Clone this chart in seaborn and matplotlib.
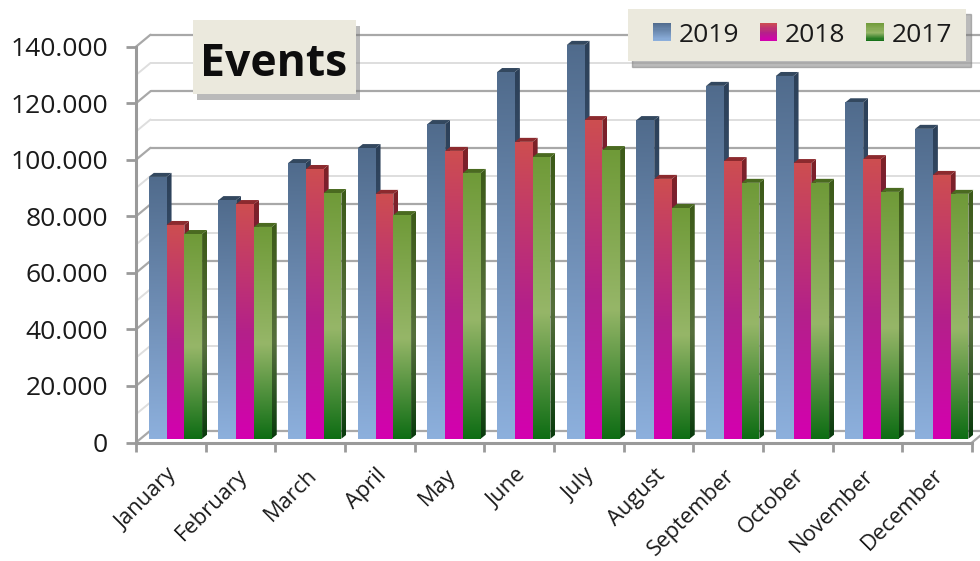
import numpy as np
import pandas as pd
import matplotlib
matplotlib.use("Agg")
import matplotlib.pyplot as plt
import seaborn as sns
from matplotlib.colors import LinearSegmentedColormap, to_rgb
from matplotlib.legend_handler import HandlerBase
from matplotlib.patches import Patch, Polygon, Rectangle
from matplotlib.transforms import ScaledTranslation
import matplotlib.patheffects as pe

months = ["January", "February", "March", "April", "May", "June", "July",
          "August", "September", "October", "November", "December"]
v2019 = [92600, 84400, 97500, 102800, 111300, 129700, 139300, 112700, 124800, 128300, 119000, 109600]
v2018 = [75600, 83000, 95400, 86600, 101800, 105000, 112700, 91900, 98200, 97500, 98900, 93300]
v2017 = [72400, 74900, 86900, 79100, 94000, 99600, 102100, 81600, 90500, 90500, 87300, 86600]
years = ["2019", "2018", "2017"]
y_ticks = [0, 20000, 40000, 60000, 80000, 100000, 120000, 140000]
y_labels = ["0", "20.000", "40.000", "60.000", "80.000", "100.000", "120.000", "140.000"]
minor_grid = [10000, 30000, 50000, 70000, 90000, 110000, 130000]

W, H = 980, 561
sns.set_theme(style="white")
plt.rcParams["font.family"] = ["Open Sans", "DejaVu Sans"]

fig = plt.figure(figsize=(W / 100, H / 100), dpi=100, facecolor="white")
L, R, B, T = 136.0, 972.0, 442.5, 46.7
ax = fig.add_axes([L / W, 1 - B / H, (R - L) / W, (B - T) / H])
ax.patch.set_alpha(0)

df = pd.DataFrame({"month": months * 3,
                   "year": sum([[y] * 12 for y in years], []),
                   "value": v2019 + v2018 + v2017})
sns.barplot(data=df, x="month", y="value", hue="year", hue_order=years, order=months,
            width=0.765, gap=0, dodge=True, legend=False, ax=ax, saturation=1,
            palette=["#6d8db5", "#b8208c", "#7fa04a"], linewidth=0)

ax.set_xlim(-0.5, 11.5)
ax.set_ylim(0, 140000)
px_x = 12 / (R - L)
px_y = 140000 / (B - T)

# 3D depth
wall_dx, wall_dy = 14.5 * px_x, 12 * px_y
bar_dx, bar_dy = 4.6 * px_x, 3.8 * px_y
side_dx, side_dy = 5.0 * px_x, 4.0 * px_y

front = {"2019": ["#506b8c", "#8db0dd"],
         "2018": ["#cd4e50", "#b4208a", "#d400b0"],
         "2017": ["#6f9a38", "#96b668", "#0e6d14"]}
side = {"2019": ["#2c4058", "#4c6a90"],
        "2018": ["#7d2226", "#701060", "#800070"],
        "2017": ["#3c5a18", "#566f3c", "#083a0c"]}
cap = {"2019": "#33485f", "2018": "#8c2a2e", "2017": "#4a6a20"}
stops = {2: [0, 1], 3: [0, 0.55, 1]}


def grad_image(colors, z, verts):
    cmap = LinearSegmentedColormap.from_list(
        "g", list(zip(stops[len(colors)], [to_rgb(c) for c in colors])))
    xs, ys = zip(*verts)
    im = ax.imshow(np.linspace(0, 1, 256)[:, None], cmap=cmap, aspect="auto",
                   origin="upper", extent=(min(xs), max(xs), min(ys), max(ys)),
                   zorder=z, interpolation="bilinear")
    clip = Polygon(verts, closed=True, transform=ax.transData, fc="none", ec="none")
    im.set_clip_box(fig.bbox)
    im.set_clip_path(clip)


for s, (year, cont) in enumerate(zip(years, ax.containers)):
    for m, p in enumerate(cont.patches):
        p.set_x(p.get_x() + bar_dx)
        p.set_y(bar_dy)
        p.set_clip_on(False)
        x0, x1 = p.get_x(), p.get_x() + p.get_width()
        y0, y1 = bar_dy, bar_dy + p.get_height()
        z = 2 + 0.01 * (m * 3 + s)
        p.set_zorder(z)
        grad_image(side[year], z + 0.001,
                   [(x1, y0), (x1 + side_dx, y0 + side_dy), (x1 + side_dx, y1 + side_dy), (x1, y1)])
        ax.add_patch(Polygon([(x0, y1), (x1, y1), (x1 + side_dx, y1 + side_dy), (x0 + side_dx, y1 + side_dy)],
                             closed=True, fc=cap[year], ec="none", zorder=z + 0.002, clip_on=False))
        grad_image(front[year], z + 0.003, [(x0, y0), (x1, y0), (x1, y1), (x0, y1)])

ax.set_xlim(-0.5, 11.5)
ax.set_ylim(0, 140000)

# walls
major_c, minor_c = "#a8a8a8", "#dedede"
x_back = [-0.5 + wall_dx, 11.5 + wall_dx]
xs_side = [-0.5, -0.5 + wall_dx]
for vals, c, lw in ((minor_grid, minor_c, 1.4), (y_ticks, major_c, 1.6)):
    for v in vals:
        ax.plot(x_back, [v + wall_dy] * 2, color=c, lw=lw, zorder=1, clip_on=False)
        ax.plot(xs_side, [v, v + wall_dy], color=c, lw=lw, zorder=1, clip_on=False)
ax.plot([11.5, 11.5 + wall_dx], [0, wall_dy], color=major_c, lw=1.6, zorder=1, clip_on=False)

for sp in ("top", "right"):
    ax.spines[sp].set_visible(False)
for sp in ("left", "bottom"):
    ax.spines[sp].set_color("#9a9a9a")
    ax.spines[sp].set_linewidth(2.2)
    ax.spines[sp].set_zorder(4)

ax.set_xlabel("")
ax.set_ylabel("")
ax.set_yticks(y_ticks)
ax.set_yticklabels(y_labels, fontsize=19, color="#1a1a1a")
ax.tick_params(axis="y", length=7, width=2, color="#9a9a9a", pad=13, left=True)
ax.set_xticks(np.arange(-0.5, 12, 1))
ax.set_xticklabels([])
ax.tick_params(axis="x", which="major", length=6.5, width=2, color="#9a9a9a", bottom=True)
ax.set_xticks(np.arange(12), minor=True)
ax.set_xticklabels(months, minor=True, rotation=45, ha="right", rotation_mode="anchor",
                   fontsize=15.8, color="#1a1a1a")
ax.tick_params(axis="x", which="minor", length=0, pad=16)
for lab in ax.get_xticklabels(minor=True):
    lab.set_transform(lab.get_transform() + ScaledTranslation(-4 / 100, 0, fig.dpi_scale_trans))

# title box
box_c = "#ebe9dd"
shadow = [pe.SimplePatchShadow(offset=(3, -4), shadow_rgbFace="#777777", alpha=0.5), pe.Normal()]
fig.add_artist(Rectangle((193 / W, 1 - 94 / H), 163 / W, 74 / H, transform=fig.transFigure,
                         fc=box_c, ec="none", zorder=10, path_effects=shadow))
fig.text(274 / W, 1 - 76 / H, "Events", fontsize=32, fontweight="bold", color="#0d0d0d",
         ha="center", va="baseline", zorder=11)


# legend
class GradHandler(HandlerBase):
    def __init__(self, colors):
        super().__init__()
        self.colors = colors

    def create_artists(self, legend, orig_handle, xdescent, ydescent, width, height, fontsize, trans):
        cmap = LinearSegmentedColormap.from_list(
            "g", list(zip(stops[len(self.colors)], [to_rgb(c) for c in self.colors])))
        n = 16
        x = -xdescent + width - height
        out = []
        for i in range(n):
            out.append(Rectangle((x, -ydescent + height * (n - 1 - i) / n), height, height / n + 0.3,
                                 fc=cmap((i + 0.5) / n), ec="none", transform=trans))
        return out


handles = [Patch(label=y) for y in years]
hmap = {h: GradHandler(front[y]) for h, y in zip(handles, years)}
leg = fig.legend(handles=handles, handler_map=hmap, ncol=3, loc="center",
                 bbox_to_anchor=(797 / W, 1 - 35 / H), fontsize=19, frameon=True,
                 facecolor=box_c, edgecolor="none", framealpha=1, fancybox=False,
                 handlelength=1.1, handleheight=0.66, handletextpad=0.3, columnspacing=0.35,
                 borderpad=0.53, labelcolor="#1a1a1a",
                 shadow={"color": "#777777", "alpha": 0.5, "ox": 3, "oy": -4})
leg.set_zorder(10)

fig.savefig("out.png", dpi=100, facecolor="white")
